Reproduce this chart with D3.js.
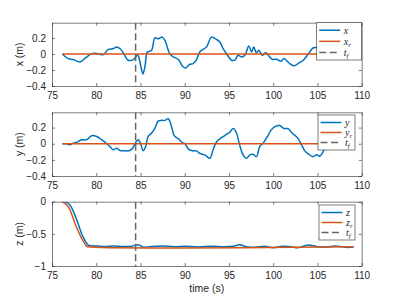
<!DOCTYPE html>
<html>
<head>
<meta charset="utf-8">
<script src="https://cdn.jsdelivr.net/npm/d3@7"></script>
<style>
  body { margin: 0; background: #fff; }
  svg { display: block; font-family: "Liberation Sans", Arial, sans-serif; }
</style>
</head>
<body>
<div id="chart"></div>
<script>
// time ticks shared by all panels
var timeTicks = [75, 80, 85, 90, 95, 100, 105, 110];
var tf = 84.45;

// x position (m)
var tX = [76.17, 76.84, 77.4, 78.16, 78.7, 79.5, 80.2, 80.8, 81.36, 81.9, 82.3, 82.7, 83.05, 83.6, 84.2, 84.37, 84.67, 84.8, 85.05, 85.27, 85.5, 85.77, 86.0, 86.26, 86.63, 87.0, 87.45, 87.76, 88.3, 88.7, 89.26, 89.8, 90.1, 90.58, 90.95, 91.3, 91.7, 92.08, 92.46, 93.03, 93.6, 93.97, 94.34, 94.83, 95.3, 95.66, 96.04, 96.4, 96.8, 97.24, 97.55, 97.8, 98.1, 98.37, 98.75, 99.13, 99.35, 99.87, 100.37, 100.9, 101.2, 101.87, 102.4, 102.8, 103.4, 104.0, 104.5, 104.9, 105.2];
var xVals = [0, -0.058, -0.07, -0.099, -0.058, 0.004, 0.004, -0.008, 0.058, 0.065, 0.086, 0.065, 0.016, -0.078, -0.07, -0.05, -0.016, -0.037, -0.16, -0.25, -0.16, 0.025, 0.033, 0.045, 0.2, 0.19, 0.21, 0.17, 0.004, -0.037, -0.066, -0.16, -0.175, -0.128, -0.12, -0.078, 0.025, 0.058, 0.086, 0.21, 0.18, 0.148, 0.065, -0.016, -0.078, -0.078, -0.016, -0.037, -0.016, 0.099, 0.025, 0.086, 0.016, 0.045, -0.016, 0.016, -0.004, -0.066, -0.066, -0.09, -0.058, -0.12, -0.148, -0.12, -0.078, 0.004, 0.074, 0.08, 0.085];

// y position (m)
var tY = [76.17, 76.66, 77.03, 77.4, 77.8, 78.35, 78.9, 79.5, 80.05, 80.6, 81.2, 81.55, 81.9, 82.3, 82.68, 83.24, 83.8, 84.18, 84.37, 84.74, 85.0, 85.3, 85.58, 85.87, 86.26, 86.63, 87.0, 87.38, 87.76, 88.13, 88.5, 88.8, 89.26, 89.82, 90.0, 90.4, 90.84, 91.34, 91.7, 92.27, 92.84, 93.2, 93.6, 94.15, 94.7, 95.1, 95.47, 95.85, 96.2, 96.6, 96.98, 97.36, 97.73, 98.1, 98.48, 98.86, 99.35, 99.8, 100.26, 100.74, 101.23, 101.68, 102.14, 102.74, 103.2, 103.57, 104.0, 104.5, 104.9, 105.26, 105.8, 106.3];
var yVals = [0, 0, -0.013, 0.008, 0.02, 0.05, 0.05, 0.1, 0.09, 0.05, 0, -0.034, -0.075, -0.055, -0.084, -0.088, -0.084, -0.046, 0, 0.05, 0.008, -0.088, -0.034, 0.09, 0.133, 0.195, 0.28, 0.29, 0.29, 0.31, 0.216, 0.104, 0.063, 0.008, 0.004, -0.063, -0.088, -0.088, -0.12, -0.138, -0.18, -0.075, 0.025, 0.075, 0.116, 0.145, 0.188, 0.133, -0.013, -0.138, -0.18, -0.138, -0.13, -0.16, -0.034, 0.008, 0.09, 0.175, 0.216, 0.225, 0.188, 0.188, 0.133, 0.075, -0.013, -0.088, -0.13, -0.16, -0.138, -0.155, -0.07, 0.0];

// z position (m)
var tZ = [76.1, 76.47, 77.03, 77.8, 78.5, 79.1, 79.5, 80.2, 81.0, 82.0, 83.0, 84.0, 84.75, 85.3, 86.2, 87.5, 88.8, 90.0, 91.5, 93.0, 94.5, 95.5, 96.2, 97.0, 98.0, 99.0, 100.0, 101.0, 102.0, 102.8, 103.9, 105.0, 106.0, 107.0, 107.8, 108.45, 109.1];
var zVals = [0.02, 0, -0.05, -0.285, -0.545, -0.675, -0.685, -0.69, -0.695, -0.688, -0.695, -0.692, -0.668, -0.708, -0.695, -0.688, -0.7, -0.692, -0.705, -0.692, -0.7, -0.692, -0.668, -0.7, -0.708, -0.692, -0.715, -0.692, -0.7, -0.715, -0.672, -0.7, -0.705, -0.688, -0.7, -0.712, -0.7];
var tZr = [76.1, 76.84, 77.6, 78.35, 78.9, 79.1, 109.1];
var zrVals = [0, -0.078, -0.34, -0.57, -0.69, -0.70, -0.70];

// reference for x and y
var tRef = [76.17, 109.1];
var refVals = [0, 0];

var panels = [
  { label: "x (m)", top: 22.7, bottom: 86, domain: [-0.4, 0.39], ticks: [-0.4, -0.2, 0, 0.2],
    series: [[tX, xVals, "#0072BD"], [tRef, refVals, "#D95319"]],
    names: [["x", ""], ["x", "r"], ["t", "f"]], legend: { x: 316.7, y: 22.7, w: 45, h: 37.3 } },
  { label: "y (m)", top: 112.3, bottom: 176, domain: [-0.4, 0.39], ticks: [-0.4, -0.2, 0, 0.2],
    series: [[tY, yVals, "#0072BD"], [tRef, refVals, "#D95319"]],
    names: [["y", ""], ["y", "r"], ["t", "f"]], legend: { x: 318, y: 115, w: 37, h: 35 } },
  { label: "z (m)", top: 201.7, bottom: 266, domain: [-1, 0], ticks: [-1, -0.5, 0],
    series: [[tZ, zVals, "#0072BD"], [tZr, zrVals, "#D95319"]],
    names: [["z", ""], ["z", "r"], ["t", "f"]], legend: { x: 319, y: 205, w: 36, h: 35 } }
];

var W = 399, H = 299;
var left = 52, right = 361.7;
var ink = "#262626";
var dashCol = "#666";

var svg = d3.select("#chart").append("svg").attr("width", W).attr("height", H);

var x = d3.scaleLinear().domain([75, 110]).range([left, right]);

var line = d3.line()
  .x(function (d) { return x(d[0]); })
  .y(function (d) { return d.y; })
  .curve(d3.curveCatmullRom);

panels.forEach(function (p, i) {
  var y = d3.scaleLinear().domain(p.domain).range([p.bottom, p.top]);
  var g = svg.append("g");
  var clipId = "clip" + i;
  svg.append("clipPath").attr("id", clipId).append("rect")
    .attr("x", left).attr("y", p.top).attr("width", right - left).attr("height", p.bottom - p.top);

  // axes with inward ticks, box on
  var fmt = function (d) { return d === 0 ? "0" : d3.format("")(d); };
  g.append("g").attr("transform", "translate(0," + p.bottom + ")")
    .call(d3.axisBottom(x).tickValues(timeTicks).tickSizeInner(-3).tickSizeOuter(0).tickPadding(6));
  g.append("g").attr("transform", "translate(0," + p.top + ")")
    .call(d3.axisTop(x).tickValues(timeTicks).tickSizeInner(-3).tickSizeOuter(0).tickFormat(""));
  g.append("g").attr("transform", "translate(" + left + ",0)")
    .call(d3.axisLeft(y).tickValues(p.ticks).tickSizeInner(-3).tickSizeOuter(0).tickPadding(6).tickFormat(fmt));
  g.append("g").attr("transform", "translate(" + right + ",0)")
    .call(d3.axisRight(y).tickValues(p.ticks).tickSizeInner(-3).tickSizeOuter(0).tickFormat(""));
  g.selectAll(".domain").attr("stroke", ink).attr("stroke-width", 0.6);
  g.selectAll(".tick line").attr("stroke", ink).attr("stroke-width", 0.6);
  g.selectAll(".tick text").attr("fill", ink).style("font-size", "10px");

  // y label
  g.append("text")
    .attr("transform", "translate(23," + ((p.top + p.bottom) / 2) + ") rotate(-90)")
    .attr("text-anchor", "middle")
    .attr("fill", ink).style("font-size", "10.5px")
    .text(p.label);

  // data lines
  var plot = g.append("g").attr("clip-path", "url(#" + clipId + ")");
  p.series.forEach(function (s) {
    var pts = s[0].map(function (t, k) { return { 0: t, y: y(s[1][k]) }; });
    plot.append("path").attr("d", line(pts))
      .attr("fill", "none").attr("stroke", s[2]).attr("stroke-width", 1.5);
  });
  // final time marker
  plot.append("line")
    .attr("x1", x(tf)).attr("x2", x(tf)).attr("y1", p.top).attr("y2", p.bottom)
    .attr("stroke", dashCol).attr("stroke-width", 1.5).attr("stroke-dasharray", "7,3.5");

  // legend
  var L = p.legend;
  var lg = g.append("g");
  lg.append("rect").attr("x", L.x).attr("y", L.y).attr("width", L.w).attr("height", L.h)
    .attr("fill", "#fff").attr("stroke", ink).attr("stroke-width", 0.6);
  var colors = ["#0072BD", "#D95319", dashCol];
  p.names.forEach(function (n, k) {
    var cy = L.y + 7.5 + k * (L.h - 15) / 2;
    lg.append("line").attr("x1", L.x + 2.5).attr("x2", L.x + 23.5).attr("y1", cy).attr("y2", cy)
      .attr("stroke", colors[k]).attr("stroke-width", 1.5)
      .attr("stroke-dasharray", k === 2 ? "7,3.5" : null);
    var tx = lg.append("text").attr("x", L.x + 27).attr("y", cy + 3.3)
      .attr("fill", ink).style("font-family", "'Liberation Serif', serif")
      .style("font-style", "italic").style("font-size", "10px");
    tx.append("tspan").text(n[0]);
    if (n[1]) tx.append("tspan").attr("dy", 2.5).style("font-size", "7px").text(n[1]);
  });
});

// shared x label
svg.append("text").attr("x", (left + right) / 2).attr("y", 292)
  .attr("text-anchor", "middle").attr("fill", ink).style("font-size", "10.5px")
  .text("time (s)");
</script>
</body>
</html>
